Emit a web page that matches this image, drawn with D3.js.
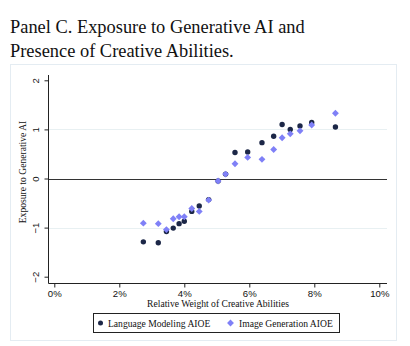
<!DOCTYPE html>
<html>
<head>
<meta charset="utf-8">
<script src="https://cdn.jsdelivr.net/npm/d3@7"></script>
<style>
  body { margin: 0; background: #fff; }
  svg { display: block; font-family: "Liberation Serif", "Times New Roman", serif; }
</style>
</head>
<body>
<svg id="chart" width="410" height="346"></svg>
<script>
// Binned scatter: share of creative abilities (%) vs standardized AI exposure
const xBins = [2.74, 3.20, 3.45, 3.66, 3.84, 4.00, 4.23, 4.46, 4.75, 5.04, 5.27,
               5.56, 5.95, 6.39, 6.75, 7.01, 7.26, 7.56, 7.92, 8.65];
const languageAIOE = [-1.29, -1.31, -1.08, -1.01, -0.92, -0.87, -0.67, -0.56, -0.43, -0.05, 0.09,
                      0.53, 0.54, 0.73, 0.86, 1.10, 1.00, 1.07, 1.14, 1.05];
const imageAIOE = [-0.91, -0.92, -1.04, -0.82, -0.78, -0.78, -0.61, -0.67, -0.44, -0.05, 0.09,
                   0.30, 0.43, 0.39, 0.59, 0.83, 0.91, 0.97, 1.09, 1.33];
const xTicks = [0, 2, 4, 6, 8, 10];
const yTicks = [-2, -1, 0, 1, 2];
const seriesNames = ["Language Modeling AIOE", "Image Generation AIOE"];

const colors = { navy: "#1c2747", purple: "#7f80f7", frame: "#e4ecf2", grid: "#e8f0f2" };
const small = "9.6px";

const svg = d3.select("#chart");

// Title
const title = svg.append("g").attr("fill", "#111").style("font-size", "18.4px");
title.append("text").attr("x", 10).attr("y", 33).text("Panel C. Exposure to Generative AI and");
title.append("text").attr("x", 10).attr("y", 57).text("Presence of Creative Abilities.");

// Graph region frame
svg.append("rect")
  .attr("x", 10.5).attr("y", 64.5).attr("width", 386).attr("height", 276)
  .attr("fill", "none").attr("stroke", colors.frame);

const x = d3.scaleLinear().domain([0, 10]).range([54.3, 379.3]);
const y = d3.scaleLinear().domain([-2, 2]).range([276.7, 80.3]);
const plotLeft = 48.5, plotRight = 387, plotTop = 75, plotBottom = 283.5;

// Gridlines
svg.append("g").selectAll("line")
  .data([-1, 1])
  .join("line")
  .attr("x1", plotLeft).attr("x2", plotRight)
  .attr("y1", d => Math.round(y(d)) + 0.5).attr("y2", d => Math.round(y(d)) + 0.5)
  .attr("stroke", colors.grid).attr("stroke-width", 1.2);

// Zero line
svg.append("line")
  .attr("x1", plotLeft).attr("x2", plotRight)
  .attr("y1", Math.round(y(0)) + 0.5).attr("y2", Math.round(y(0)) + 0.5)
  .attr("stroke", "#333").attr("stroke-width", 1.1);

// X axis
const xAxis = d3.axisBottom(x).tickValues(xTicks).tickSize(4).tickFormat(d => d + "%");
const gx = svg.append("g").attr("transform", `translate(0,${plotBottom})`).call(xAxis);
gx.select(".domain").attr("d", `M${plotLeft},0H${plotRight}`).attr("stroke", "#222");
gx.selectAll(".tick line").attr("stroke", "#222");
gx.selectAll("text")
  .attr("font-family", null).style("font-size", small).attr("fill", "#111")
  .attr("y", 13).attr("dy", null);

// Y axis, Stata-style rotated tick labels
const yAxis = d3.axisLeft(y).tickValues(yTicks).tickSize(4).tickFormat(d3.format("d"));
const gy = svg.append("g").attr("transform", `translate(${plotLeft},0)`).call(yAxis);
gy.select(".domain").attr("d", `M0,${plotTop}V${plotBottom}`).attr("stroke", "#222");
gy.selectAll(".tick line").attr("stroke", "#222");
gy.selectAll("text")
  .attr("font-family", null)
  .style("font-size", small).attr("fill", "#111")
  .attr("x", null).attr("dy", null)
  .attr("text-anchor", "middle")
  .attr("transform", "translate(-10,0) rotate(-90)");

// Axis titles
svg.append("text")
  .attr("x", 218).attr("y", 307)
  .attr("text-anchor", "middle").style("font-size", small).attr("fill", "#111")
  .text("Relative Weight of Creative Abilities");
svg.append("text")
  .attr("transform", "translate(26,172) rotate(-90)")
  .attr("text-anchor", "middle").style("font-size", small).attr("fill", "#111")
  .text("Exposure to Generative AI");

// Markers
const diamond = d3.symbol().type(d3.symbolDiamond2).size(30);

svg.append("g").selectAll("circle")
  .data(xBins.map((v, i) => [v, languageAIOE[i]]))
  .join("circle")
  .attr("cx", d => x(d[0])).attr("cy", d => y(d[1]))
  .attr("r", 2.7).attr("fill", colors.navy);

svg.append("g").selectAll("path")
  .data(xBins.map((v, i) => [v, imageAIOE[i]]))
  .join("path")
  .attr("d", diamond)
  .attr("transform", d => `translate(${x(d[0])},${y(d[1])})`)
  .attr("fill", colors.purple);

// Legend
const legend = svg.append("g");
legend.append("rect")
  .attr("x", 93.5).attr("y", 313.5).attr("width", 246).attr("height", 19)
  .attr("fill", "#fff").attr("stroke", "#222");
legend.append("circle").attr("cx", 100.5).attr("cy", 323).attr("r", 2.5).attr("fill", colors.navy);
legend.append("text").attr("x", 108).attr("y", 326.5).style("font-size", small).attr("fill", "#111")
  .text(seriesNames[0]);
legend.append("path").attr("d", diamond).attr("transform", "translate(230.5,323)").attr("fill", colors.purple);
legend.append("text").attr("x", 239).attr("y", 326.5).style("font-size", small).attr("fill", "#111")
  .text(seriesNames[1]);
</script>
</body>
</html>
